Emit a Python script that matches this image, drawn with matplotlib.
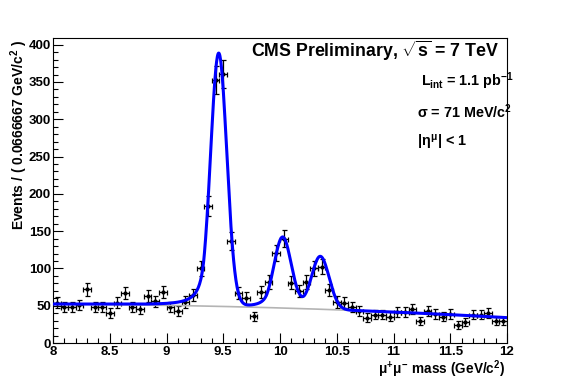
#!/usr/bin/env python3
import numpy as np
import matplotlib
matplotlib.use("Agg")
import matplotlib.pyplot as plt
from matplotlib.ticker import MultipleLocator, FuncFormatter

# binned data, 60 bins of 0.0666667 GeV/c^2 between 8 and 12
mass_low = 8.0
mass_high = 12.0
bin_width = (mass_high - mass_low) / 60
events = [
    54, 48, 48, 51, 72, 48, 48, 40, 54, 67,
    48, 45, 63, 56, 68, 48, 43, 55, 64, 100,
    184, 353, 361, 137, 67, 60, 36, 68, 82, 121,
    140, 81, 70, 82, 100, 102, 71, 55, 54, 48,
    43, 34, 38, 38, 35, 42, 42, 46, 30, 43,
    39, 35, 39, 24, 28, 38, 38, 40, 30, 30,
]

# fit result: three crystal-ball peaks + quadratic background
peak_mass = [9.46, 10.023, 10.355]
peak_sigma = [0.071, 0.0754, 0.0778]
peak_height = [339, 94, 71]
cb_alpha = 1.8
cb_n = 2.0
bkg_coef = [47.0, -4.5, -1.0]  # in powers of (m - 10)


def crystal_ball(x, mean, sigma):
    t = (x - mean) / sigma
    a = (cb_n / cb_alpha) ** cb_n * np.exp(-cb_alpha ** 2 / 2)
    b = cb_n / cb_alpha - cb_alpha
    out = np.exp(-t ** 2 / 2)
    tail = t < -cb_alpha
    out[tail] = a * (b - t[tail]) ** (-cb_n)
    return out


def background(x):
    u = x - 10.0
    return bkg_coef[0] + bkg_coef[1] * u + bkg_coef[2] * u ** 2


plt.rcParams["font.family"] = ["Liberation Sans", "DejaVu Sans"]
plt.rcParams["font.weight"] = "bold"
plt.rcParams["mathtext.fontset"] = "custom"
plt.rcParams["mathtext.rm"] = "Liberation Sans:bold"
plt.rcParams["mathtext.it"] = "Liberation Sans:bold"
plt.rcParams["mathtext.bf"] = "Liberation Sans:bold"

fig = plt.figure(figsize=(5.63, 3.82), dpi=100)
ax = fig.add_axes([53 / 563, 1 - 343 / 382, (507 - 53) / 563, (343 - 38) / 382])

centers = mass_low + bin_width * (np.arange(len(events)) + 0.5)
counts = np.array(events, dtype=float)
ax.errorbar(
    centers, counts,
    xerr=bin_width / 2, yerr=np.sqrt(counts),
    fmt="o", color="black", markersize=2, elinewidth=0.9,
    capsize=1.8, capthick=0.9, zorder=2,
)

m = np.linspace(mass_low, mass_high, 1200)
bkg = background(m)
total = bkg.copy()
for mu, sig, h in zip(peak_mass, peak_sigma, peak_height):
    total += h * crystal_ball(m, mu, sig)

ax.plot(m, bkg, color="#b4b4b4", linewidth=1.2, zorder=3)
ax.plot(m, total, color="#0000ff", linewidth=2.2, zorder=4)

ax.set_xlim(mass_low, mass_high)
ax.set_ylim(0, 409)
ax.xaxis.set_major_locator(MultipleLocator(0.5))
ax.xaxis.set_minor_locator(MultipleLocator(0.1))
ax.xaxis.set_major_formatter(FuncFormatter(lambda v, _: f"{v:g}"))
ax.yaxis.set_major_locator(MultipleLocator(50))
ax.yaxis.set_minor_locator(MultipleLocator(10))
ax.tick_params(which="both", direction="in", top=False, right=False,
               labelsize=9.5, width=0.8)
ax.tick_params(which="major", length=7)
ax.tick_params(which="minor", length=3.5)
ax.tick_params(axis="x", pad=2)
ax.tick_params(axis="y", pad=1.5)
for label in ax.get_xticklabels() + ax.get_yticklabels():
    label.set_fontweight("bold")
for spine in ax.spines.values():
    spine.set_linewidth(0.8)

fig.text(19 / 563, 1 - 40 / 382, r"Events / ( 0.0666667 GeV/c$^{2}$ )",
         rotation=90, ha="center", va="top", fontsize=10, fontweight="bold")
fig.text(505 / 563, 1 - 369 / 382, r"$\mu^{+}\mu^{-}$ mass (GeV/c$^{2}$)",
         ha="right", va="center", fontsize=9.8, fontweight="bold")

fig.text(499 / 563, 1 - 51 / 382, r"CMS Preliminary, $\sqrt{s}$ = 7 TeV",
         ha="right", va="center", fontsize=12.8, fontweight="bold")
fig.text(421 / 563, 1 - 81 / 382, r"L$_{\mathrm{int}}$ = 1.1 pb$^{-1}$",
         ha="left", va="center", fontsize=10.4, fontweight="bold")
fig.text(417 / 563, 1 - 112 / 382, r"$\sigma$ = 71 MeV/c$^{2}$",
         ha="left", va="center", fontsize=10.4, fontweight="bold")
fig.text(417 / 563, 1 - 142 / 382, r"|$\eta^{\mu}$| < 1",
         ha="left", va="center", fontsize=10.4, fontweight="bold")

fig.savefig("out.png", dpi=100)
